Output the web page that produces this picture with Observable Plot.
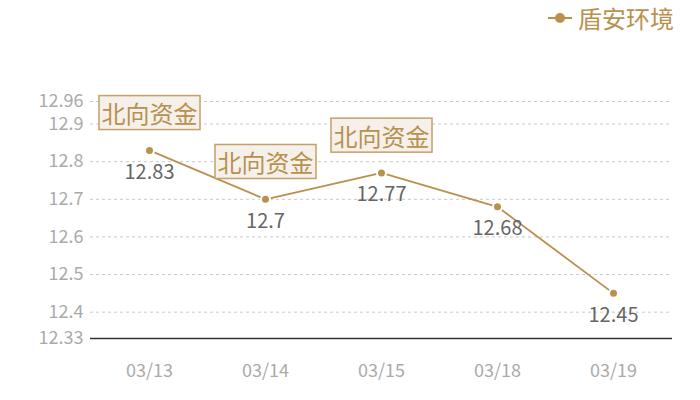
<!DOCTYPE html>
<html><head><meta charset="utf-8">
<script src="https://cdn.jsdelivr.net/npm/d3@7"></script>
<script src="https://cdn.jsdelivr.net/npm/@observablehq/plot@0.6"></script>
<style>
body{margin:0;background:#fff;font-family:"Noto Sans CJK SC","Noto Sans",sans-serif;}
#wrap{position:relative;width:700px;height:400px;}
#legend{position:absolute;top:0px;left:548px;display:flex;align-items:center;color:#b8914f;font-size:24px;line-height:36px;z-index:2}
#legend svg{margin-right:6px}
</style></head>
<body><div id="wrap"><div id="legend"><svg width="24" height="12"><line x1="0" x2="24" y1="6" y2="6" stroke="#b8914f" stroke-width="2"/><circle cx="12" cy="6" r="5" fill="#b8914f"/></svg>盾安环境</div></div>
<script>
const dates = ["03/13","03/14","03/15","03/18","03/19"];
const values = [12.83,12.7,12.77,12.68,12.45];
const labels = ["12.83","12.7","12.77","12.68","12.45"];
const annotated = ["03/13","03/14","03/15"];
const annotationText = "北向资金";
const yTicks = [12.33,12.4,12.5,12.6,12.7,12.8,12.9,12.96];
const gridTicks = [12.4,12.5,12.6,12.7,12.8,12.9,12.96];
const seriesName = "盾安环境";

const data = dates.map((d,i)=>({date:d,value:values[i],label:labels[i]}));
const ann = data.filter(d=>annotated.includes(d.date));
const color = "#b8914f";

const chart = Plot.plot({
  width:700,height:400,
  marginLeft:90,marginRight:28,marginTop:101,marginBottom:62,
  style:{fontFamily:'"Noto Sans CJK SC","Noto Sans",sans-serif',background:"transparent"},
  x:{type:"point",domain:dates,padding:0.5,label:null},
  y:{domain:[12.33,12.96],label:null},
  marks:[
    Plot.gridY(gridTicks,{stroke:"#c8c8c8",strokeOpacity:1,strokeDasharray:"3,3"}),
    Plot.ruleY([12.33],{stroke:"#333",strokeWidth:1.5}),
    Plot.axisY(yTicks,{tickSize:0,tickPadding:7,fontSize:18,fill:"#aaa",tickFormat:d=>String(d)}),
    Plot.axisX({tickSize:0,tickPadding:26,fontSize:18,fill:"#aaa"}),
    Plot.line(data,{x:"date",y:"value",stroke:color,strokeWidth:1.8}),
    Plot.dot(data,{x:"date",y:"value",r:4.5,fill:color,stroke:"#fff",strokeWidth:2}),
    Plot.text(data,{x:"date",y:"value",text:"label",dy:22,fontSize:20,fill:"#666"}),
    Plot.text(ann,{x:"date",y:"value",text:()=>annotationText,dy:-35,fontSize:24,fill:color,className:"annot"})
  ]
});
document.getElementById("wrap").appendChild(chart);
chart.style.position="absolute";chart.style.left="0";chart.style.top="0";
document.querySelectorAll(".annot text").forEach(t=>{
  const b=t.getBBox();
  const r=document.createElementNS("http://www.w3.org/2000/svg","rect");
  const w=101,h=34;
  const cx=b.x+b.width/2, cy=b.y+b.height/2;
  r.setAttribute("x",cx-w/2);r.setAttribute("y",cy-h/2);
  r.setAttribute("width",w);r.setAttribute("height",h);
  r.setAttribute("fill","#f5f0ea");r.setAttribute("stroke","#c4a06a");r.setAttribute("stroke-width","1.5");
  const tr=t.getAttribute("transform");
  if(tr) r.setAttribute("transform",tr);
  t.parentNode.insertBefore(r,t);
});
</script></body></html>
